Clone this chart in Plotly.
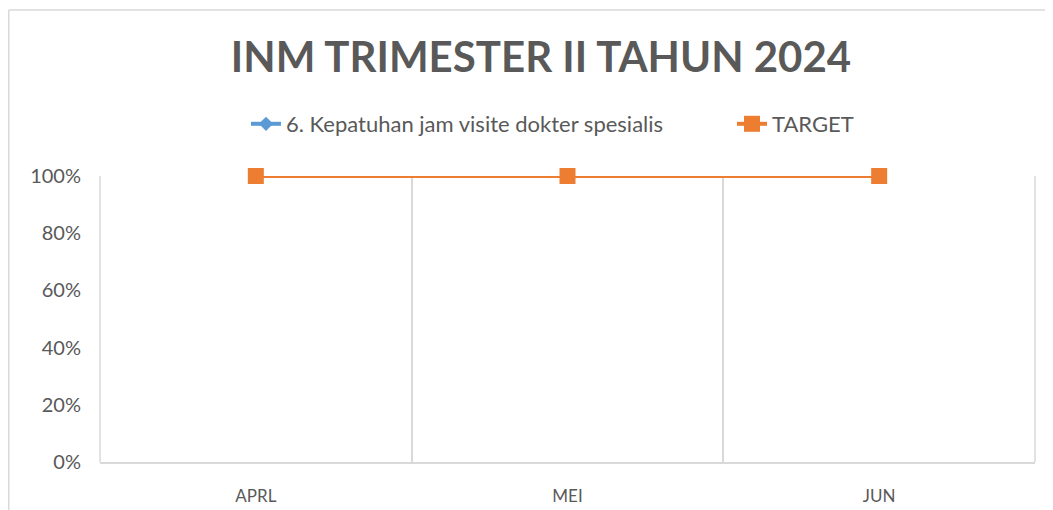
import plotly.graph_objects as go

categories = ["APRL", "MEI", "JUN"]
kepatuhan = [1.0, 1.0, 1.0]
target = [1.0, 1.0, 1.0]
y_ticks = [0, 0.2, 0.4, 0.6, 0.8, 1.0]

FONT = "Lato"
GRAY = "#595959"
GRID = "#D9D9D9"

W, H = 1053, 510
L, R, T, B = 92, 26, 168, 56
PW, PH = W - L - R, H - T - B


def px_x(p):
    return (p - L) / PW


def px_y(p):
    return (H - B - p) / PH


fig = go.Figure()
fig.add_trace(go.Scatter(
    x=categories, y=kepatuhan, mode="lines+markers",
    name="6. Kepatuhan jam visite dokter spesialis",
    line=dict(color="#5B9BD5", width=4),
    marker=dict(symbol="diamond", size=11, color="#5B9BD5"),
    cliponaxis=False, legend="legend",
))
fig.add_trace(go.Scatter(
    x=categories, y=target, mode="lines+markers",
    name="TARGET",
    line=dict(color="#ED7D31", width=4),
    marker=dict(symbol="square", size=16, color="#ED7D31"),
    cliponaxis=False, legend="legend2",
))

leg_common = dict(orientation="h", xanchor="left", yanchor="middle",
                  y=px_y(116), font=dict(family=FONT, size=22, color=GRAY),
                  bgcolor="rgba(0,0,0,0)")

fig.update_layout(
    width=W, height=H,
    margin=dict(l=L, r=R, t=T, b=B),
    paper_bgcolor="white", plot_bgcolor="white",
    font=dict(family=FONT, color=GRAY, size=20),
    title=dict(text="<b>INM TRIMESTER II TAHUN 2024</b>",
               x=533 / W, xref="container", xanchor="center",
               y=1 - 49 / H, yref="container", yanchor="middle",
               font=dict(family=FONT, size=42, color=GRAY)),
    legend=dict(x=px_x(238), **leg_common),
    legend2=dict(x=px_x(724), **leg_common),
    showlegend=True,
)
fig.update_xaxes(type="category", tickson="boundaries",
                 showgrid=True, gridcolor=GRID, gridwidth=1.5,
                 showline=True, linecolor=GRID, linewidth=1.5,
                 ticks="", ticklabelstandoff=18,
                 tickfont=dict(size=17, color=GRAY), zeroline=False,
                 range=[-0.5, 2.5])
fig.update_yaxes(range=[0, 1], tickvals=y_ticks, tickformat=".0%",
                 showgrid=False, zeroline=False, showline=False,
                 ticks="outside", ticklen=14, tickcolor="rgba(0,0,0,0)",
                 tickfont=dict(size=20, color=GRAY))

# plot area side borders
for xv in (0, 1):
    fig.add_shape(type="line", xref="paper", yref="paper",
                  x0=xv, x1=xv, y0=0, y1=1,
                  line=dict(color=GRID, width=1.5), layer="below")
# outer chart border (left and top edges visible)
fig.add_shape(type="line", xref="paper", yref="paper",
              x0=px_x(0.75), x1=px_x(0.75), y0=px_y(H + 20), y1=px_y(2),
              line=dict(color=GRID, width=1.5))
fig.add_shape(type="line", xref="paper", yref="paper",
              x0=px_x(0.75), x1=px_x(W + 20), y0=px_y(2), y1=px_y(2),
              line=dict(color=GRID, width=1.5))

fig.write_html("out.html")
